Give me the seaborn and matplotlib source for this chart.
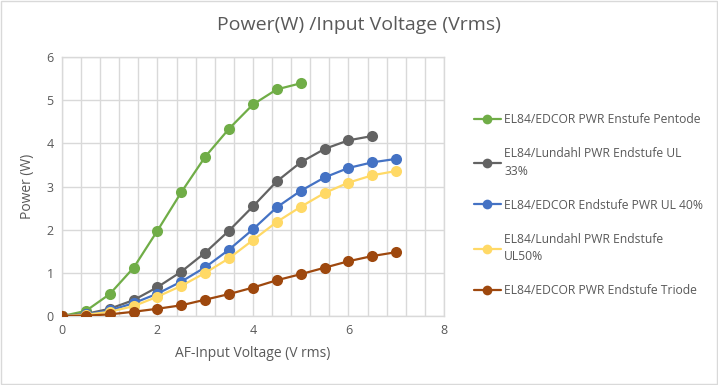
import numpy as np
import pandas as pd
import matplotlib
matplotlib.use("Agg")
import matplotlib.pyplot as plt
import seaborn as sns

x_pentode = [0, 0.5, 1, 1.5, 2, 2.5, 3, 3.5, 4, 4.5, 5]
y_pentode = [0, 0.12, 0.51, 1.12, 1.98, 2.87, 3.69, 4.34, 4.9, 5.25, 5.39]

x_ul33 = [0, 0.5, 1, 1.5, 2, 2.5, 3, 3.5, 4, 4.5, 5, 5.5, 6, 6.5]
y_ul33 = [0, 0.05, 0.17, 0.37, 0.67, 1.03, 1.47, 1.98, 2.54, 3.12, 3.56, 3.87, 4.07, 4.17]

x_ul40 = [0, 0.5, 1, 1.5, 2, 2.5, 3, 3.5, 4, 4.5, 5, 5.5, 6, 6.5, 7]
y_ul40 = [0, 0.04, 0.13, 0.3, 0.52, 0.8, 1.13, 1.54, 2.01, 2.52, 2.9, 3.21, 3.43, 3.56, 3.64]

x_ul50 = [0, 0.5, 1, 1.5, 2, 2.5, 3, 3.5, 4, 4.5, 5, 5.5, 6, 6.5, 7]
y_ul50 = [0, 0.03, 0.1, 0.23, 0.45, 0.7, 1.0, 1.34, 1.76, 2.18, 2.53, 2.85, 3.09, 3.26, 3.36]

x_triode = [0, 0.5, 1, 1.5, 2, 2.5, 3, 3.5, 4, 4.5, 5, 5.5, 6, 6.5, 7]
y_triode = [0, 0.01, 0.04, 0.1, 0.17, 0.25, 0.38, 0.51, 0.66, 0.83, 0.97, 1.12, 1.27, 1.39, 1.48]

series_names = [
    "EL84/EDCOR PWR Enstufe Pentode",
    "EL84/Lundahl PWR Endstufe UL\n33%",
    "EL84/EDCOR Endstufe PWR UL 40%",
    "EL84/Lundahl PWR Endstufe\nUL50%",
    "EL84/EDCOR PWR Endstufe Triode",
]
colors = ["#70AD47", "#636363", "#4472C4", "#FFD966", "#9E480E"]

title = "Power(W) /Input Voltage (Vrms)"
xlabel = "AF-Input Voltage (V rms)"
ylabel = "Power (W)"

xs = [x_pentode, x_ul33, x_ul40, x_ul50, x_triode]
ys = [y_pentode, y_ul33, y_ul40, y_ul50, y_triode]
frames = []
for name, xv, yv in zip(series_names, xs, ys):
    frames.append(pd.DataFrame({"x": xv, "y": yv, "series": name}))
df = pd.concat(frames, ignore_index=True)

sns.set_theme(style="white")
plt.rcParams['font.family'] = ['Open Sans', 'DejaVu Sans']
text_color = "#595959"

fig = plt.figure(figsize=(7.18, 3.85), dpi=100)
ax = fig.add_axes([0.0864, 0.179, 0.5318, 0.673])

sns.lineplot(data=df, x="x", y="y", hue="series", hue_order=series_names,
             palette=colors, marker="o", markersize=8, markeredgewidth=0,
             linewidth=1.6, ax=ax, legend=False, sort=False, zorder=3)

ax.set_xlim(0, 8)
ax.set_ylim(0, 6)
ax.set_xticks([0, 2, 4, 6, 8])
ax.set_xticks(np.arange(0, 8.01, 0.4), minor=True)
ax.set_yticks([0, 1, 2, 3, 4, 5, 6])
ax.grid(True, which="both", axis="x", color="#D9D9D9", linewidth=1.0)
ax.grid(True, which="major", axis="y", color="#D9D9D9", linewidth=1.0)
ax.set_axisbelow(True)
for s in ax.spines.values():
    s.set_color("#D9D9D9")
    s.set_linewidth(1.0)
ax.tick_params(axis="both", which="both", length=0, labelsize=9, labelcolor=text_color, pad=6)

ax.set_xlabel(xlabel, fontsize=10, color=text_color, labelpad=6)
ax.set_ylabel(ylabel, fontsize=10, color=text_color, labelpad=8)
fig.text(0.5, 0.935, title, ha="center", va="center", fontsize=14, color=text_color)

handles = [plt.Line2D([0], [0], color=c, marker="o", markersize=7, markeredgewidth=0, linewidth=1.6)
           for c in colors]
leg = fig.legend(handles, series_names, loc="upper left", bbox_to_anchor=(0.645, 0.735),
                 frameon=False, fontsize=8.7, labelcolor=text_color, handlelength=2.2,
                 handletextpad=0.3, labelspacing=1.75)
for t in leg.get_texts():
    t.set_linespacing(1.45)

fig.patches.append(plt.Rectangle((0.001, 0.002), 0.997, 0.995, transform=fig.transFigure,
                                 fill=False, edgecolor="#D9D9D9", linewidth=1.0))

fig.savefig("out.png", dpi=100)
